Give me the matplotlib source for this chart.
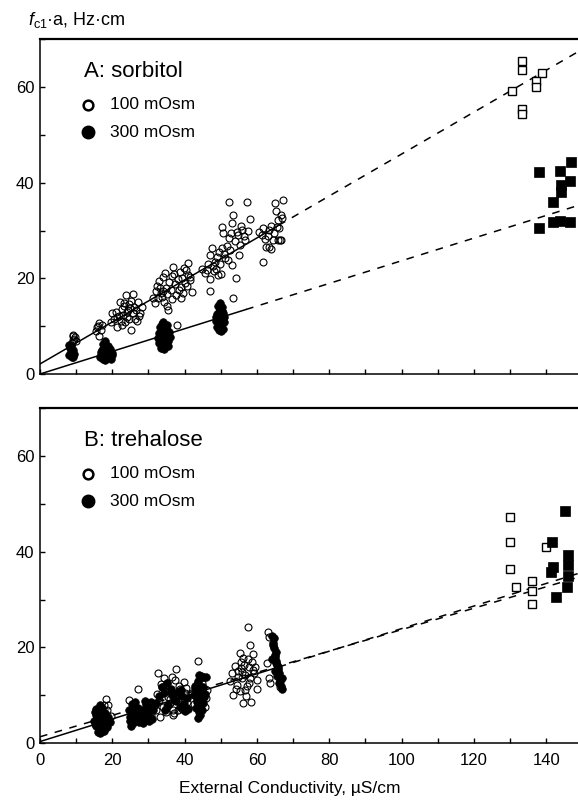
import numpy as np
import matplotlib
matplotlib.use("Agg")
import matplotlib.pyplot as plt
from matplotlib.ticker import MultipleLocator

plt.rcParams['font.family'] = ['Liberation Sans', 'DejaVu Sans']
plt.rcParams['mathtext.fontset'] = 'custom'
plt.rcParams['mathtext.rm'] = 'Liberation Sans'
plt.rcParams['mathtext.it'] = 'Liberation Sans:italic'

# ---------------- panel A: sorbitol ----------------
a100_x = [9.2, 9.7, 9.2, 10.0, 8.8, 9.5, 9.0,
          16.4, 15.7, 16.8, 15.5, 16.4, 17.2, 16.0,
          19.6, 19.8, 20.5, 21.0, 21.4, 21.8, 22.1, 22.4, 22.8, 23.0, 23.3, 23.5, 23.8, 24.0,
          24.2, 24.5, 24.7, 25.0, 25.1, 25.3, 25.6, 25.8, 26.0, 26.3, 26.6, 27.0, 27.3, 27.7,
          28.2, 21.2, 22.6, 24.4, 23.1, 26.9,
          31.2, 31.8, 32.3, 32.6, 33.0, 33.4, 33.7, 34.0, 34.3, 34.6, 34.9, 35.2, 35.5, 35.8,
          36.1, 36.4, 36.9, 37.2, 37.5, 37.8, 38.1, 38.4, 38.7, 39.0, 39.3, 39.6, 40.0, 40.3,
          40.6, 41.0, 41.4, 42.0, 33.1, 35.0, 36.6, 38.9, 40.8, 34.1, 37.0, 39.8, 32.0, 41.6,
          52.4, 57.2, 53.5, 58.1, 50.3, 55.5, 50.7, 54.4, 56.7, 47.5, 50.3, 52.6, 55.3, 51.2,
          53.0, 48.4, 46.1, 49.3, 47.0, 54.2, 47.0, 53.5, 44.8, 45.5, 46.5, 47.8, 48.2, 49.0,
          49.8, 50.9, 51.6, 52.2, 53.8, 54.9, 55.8, 56.3, 57.5, 51.9, 49.6, 48.8, 46.9, 53.1,
          55.0, 52.8, 50.0,
          65.0, 67.1, 66.6, 65.9, 63.2, 62.2, 64.5, 65.9, 66.6, 62.5, 63.8, 61.8, 65.5, 61.5,
          64.0, 66.2, 64.8, 63.0, 65.3, 60.5, 61.8, 66.9, 63.4, 66.4]
a100_y = [8.2, 7.7, 7.1, 6.8, 6.5, 7.4, 7.9,
          10.7, 9.8, 9.3, 8.9, 7.9, 10.2, 10.1,
          10.9, 12.7, 11.5, 13.0, 9.9, 12.2, 15.1, 11.0, 13.5, 12.4, 14.2, 10.8, 16.5, 13.0,
          12.0, 14.6, 11.5, 13.8, 9.3, 15.2, 16.7, 12.7, 14.0, 11.6, 13.4, 15.0, 12.2, 12.8,
          14.1, 12.0, 10.3, 13.3, 14.8, 11.0,
          16.0, 14.8, 18.5, 15.8, 19.5, 17.0, 16.2, 20.3, 15.0, 21.1, 18.0, 16.8, 13.4, 19.2,
          17.6, 20.6, 22.4, 18.8, 16.5, 10.3, 19.8, 17.5, 21.3, 18.2, 20.0, 16.9, 19.1, 21.7,
          18.5, 23.2, 20.2, 17.2, 17.9, 14.3, 15.7, 16.0, 20.8, 17.4, 20.9, 22.1, 17.3, 19.6,
          35.9, 36.0, 33.3, 32.4, 30.8, 31.0, 29.4, 29.8, 28.0, 26.4, 26.3, 25.9, 27.0, 24.2,
          22.8, 23.5, 21.8, 20.7, 19.8, 20.0, 17.4, 16.0, 22.0, 21.2, 23.0, 22.6, 21.5, 24.5,
          23.0, 25.2, 26.8, 28.5, 27.8, 29.0, 30.2, 28.8, 30.0, 23.8, 25.5, 22.0, 24.8, 31.5,
          25.0, 29.6, 21.0,
          35.7, 36.5, 33.3, 32.2, 30.1, 28.2, 28.0, 28.0, 28.0, 26.5, 26.1, 23.5, 30.7, 29.0,
          31.0, 30.5, 29.6, 28.9, 34.2, 29.8, 30.6, 32.6, 26.6, 28.0]

a300_x = [8.0, 8.5, 9.0, 8.3, 8.8, 9.3, 8.1, 8.7, 9.1,
          16.6, 17.0, 17.4, 17.8, 18.2, 18.6, 19.0, 19.4, 19.8, 17.2, 17.8, 18.4, 19.0, 19.6,
          17.5, 18.0, 18.8, 17.9, 18.2, 16.9, 19.3, 20.0,
          32.5, 33.0, 33.5, 34.0, 34.5, 35.0, 35.5, 36.0, 33.2, 33.8, 34.4, 35.0, 35.6, 33.5,
          34.2, 34.9, 33.0, 34.0, 35.2, 34.4, 33.6, 35.4, 34.6, 33.9, 34.1,
          48.6, 49.0, 49.4, 49.8, 50.2, 50.6, 51.0, 49.2, 49.8, 50.4, 49.5, 50.0, 49.0, 50.5,
          49.7, 50.1, 48.8, 50.9, 49.4, 50.3]
a300_y = [4.0, 4.5, 5.0, 5.5, 3.6, 4.2, 6.0, 5.8, 3.5,
          3.5, 4.0, 3.2, 4.5, 3.8, 3.3, 4.2, 3.6, 4.4, 5.0, 5.5, 5.0, 4.8, 3.2,
          6.2, 6.8, 5.8, 3.0, 4.4, 4.6, 5.2, 3.9,
          7.5, 8.5, 6.5, 9.5, 7.0, 8.0, 6.8, 7.8, 9.8, 10.5, 10.0, 9.2, 8.8, 5.5,
          5.2, 6.0, 6.5, 8.0, 10.3, 8.6, 7.2, 5.8, 7.5, 6.2, 10.8,
          11.0, 12.5, 10.0, 13.5, 11.5, 12.8, 10.8, 14.2, 14.8, 14.0, 9.2, 8.9, 9.8, 9.5,
          11.8, 10.5, 12.0, 12.0, 13.0, 13.2]

a100_sq_x = [133.2, 133.2, 138.8, 137.2, 137.2, 130.5, 133.2, 133.2]
a100_sq_y = [65.5, 63.5, 62.9, 61.2, 60.0, 59.3, 55.4, 54.4]
a300_sq_x = [138.1, 143.8, 146.8, 146.6, 144.1, 144.1, 141.8, 141.8, 143.8, 146.6, 138.1]
a300_sq_y = [42.3, 42.5, 44.3, 40.4, 39.5, 38.1, 35.9, 31.7, 32.0, 31.9, 30.5]

# fitted lines: solid part, then dashed extrapolation
a100_line_x = [0, 66, 149]
a100_line_y = [2.1, 31.1, 67.5]
a300_line_x = [0, 57, 149]
a300_line_y = [0.0, 13.5, 35.3]

# ---------------- panel B: trehalose ----------------
b100_x = [18.3, 18.9, 18.4, 15.2, 16.0, 19.5, 17.6,
          24.7, 27.0, 25.4, 29.5, 30.8, 26.2,
          32.6, 37.5, 36.4, 33.7, 39.8, 33.2, 36.9, 31.8, 32.4, 33.0, 34.0, 34.5, 35.0, 35.4,
          35.9, 36.2, 36.8, 37.2, 37.7, 38.1, 38.5, 39.0, 39.4, 40.2, 40.7, 34.8, 35.6, 37.0,
          38.8, 33.6, 36.0, 38.3, 39.6, 34.3, 37.9, 35.2, 40.4, 32.1,
          43.6, 45.2, 45.6, 42.0, 46.3, 42.6, 44.9, 46.0,
          57.6, 58.1, 59.0, 55.3, 53.0, 53.3, 56.1, 58.3, 59.9, 52.5, 53.8, 54.4, 54.9, 55.5,
          55.9, 56.4, 56.8, 57.2, 57.7, 58.2, 58.7, 59.3, 60.1, 54.1, 55.2, 56.2, 57.0, 57.9,
          58.9, 56.6, 55.7, 57.4, 54.7, 59.6, 56.0,
          63.0, 63.4, 63.4, 63.6, 66.4, 62.8]
b100_y = [9.3, 7.9, 6.8, 4.0, 7.2, 5.6, 8.0,
          8.9, 11.4, 6.5, 8.2, 5.9, 4.8,
          14.6, 15.4, 13.9, 11.8, 12.8, 5.5, 5.9, 8.0, 10.2, 9.0, 7.5, 10.8, 12.5, 9.6,
          8.4, 11.0, 7.0, 13.2, 10.1, 8.8, 12.0, 9.4, 7.2, 10.5, 8.6, 6.4, 10.9, 6.2,
          11.2, 12.3, 9.3, 6.8, 8.0, 13.5, 9.9, 7.8, 11.6, 6.9,
          17.2, 13.9, 7.6, 10.5, 11.0, 8.2, 12.6, 9.5,
          24.3, 20.5, 18.6, 18.8, 14.6, 10.0, 8.3, 8.6, 11.4, 13.0, 16.2, 12.2, 15.0, 17.0,
          13.6, 16.4, 14.2, 12.0, 15.8, 13.5, 16.9, 14.7, 13.2, 11.3, 10.8, 17.8, 9.8, 12.5,
          15.2, 11.0, 15.6, 17.5, 13.8, 16.0, 14.8,
          23.3, 22.2, 13.5, 12.6, 11.8, 16.8]

b300_x = [15.0, 15.4, 15.8, 16.2, 16.6, 17.0, 17.4, 17.8, 18.2, 18.6, 15.2, 15.6, 16.0, 16.4,
          16.8, 17.2, 17.6, 18.0, 18.4, 16.0, 16.6, 17.2, 15.5, 16.3, 17.0, 17.7, 16.7, 15.9,
          16.5, 17.3, 18.8, 19.3,
          24.6, 25.0, 25.4, 25.8, 26.2, 26.6, 27.0, 25.2, 25.8, 26.4, 24.8, 25.6, 26.0, 28.4,
          28.8, 29.2, 29.6, 30.0, 30.4, 30.8, 31.2, 28.6, 29.4, 30.2, 31.0, 29.0, 29.8, 30.6,
          27.6, 28.0, 26.8, 27.4,
          32.2, 33.0, 34.2, 35.5, 36.6, 37.6, 38.6, 39.2, 40.0, 40.6, 33.8, 35.0, 36.2, 37.0,
          38.2, 39.8, 40.8, 34.6, 39.0,
          42.6, 43.0, 43.4, 43.8, 44.2, 44.6, 45.0, 45.4, 45.8, 43.2, 43.6, 44.0, 44.4, 44.8,
          45.2, 43.4, 44.0, 44.6, 45.2, 42.8, 43.8, 44.8, 44.2, 43.6, 45.6, 44.0, 43.9,
          64.2, 64.5, 64.8, 65.0, 65.3, 65.6, 65.9, 66.2, 64.4, 64.9, 65.4, 65.8, 66.3, 66.6,
          67.0, 64.3, 65.1, 65.6, 66.0, 66.8, 64.7, 65.2]
b300_y = [4.5, 3.5, 5.5, 2.8, 4.8, 3.2, 5.8, 4.0, 5.2, 3.4, 6.5, 7.2, 2.3, 6.0,
          7.5, 6.8, 2.6, 6.3, 4.4, 4.0, 3.8, 4.6, 5.9, 5.0, 2.4, 3.0, 8.0, 7.0,
          2.0, 6.0, 5.5, 4.4,
          7.0, 5.5, 8.2, 4.2, 6.6, 5.0, 7.4, 3.6, 6.0, 8.6, 4.6, 7.6, 4.8, 6.8,
          5.0, 8.2, 6.0, 7.6, 5.4, 8.6, 6.8, 4.2, 7.2, 4.6, 5.0, 8.8, 8.4, 7.2,
          5.6, 6.2, 6.4, 4.4,
          8.4, 9.8, 10.5, 8.0, 10.0, 8.8, 7.6, 9.8, 6.6, 9.4, 11.8, 12.6, 11.4, 9.0,
          10.6, 8.2, 7.2, 7.0, 11.0,
          10.0, 11.5, 9.0, 12.5, 10.5, 8.2, 11.8, 9.6, 13.8, 7.4, 13.0, 6.5, 14.0, 7.0,
          13.8, 8.6, 12.0, 10.8, 8.4, 12.0, 9.8, 11.2, 5.8, 5.2, 10.2, 9.2, 14.3,
          22.4, 21.0, 19.8, 18.5, 17.2, 16.4, 15.5, 14.6, 20.4, 18.0, 16.8, 16.0, 13.0, 12.0,
          11.4, 17.6, 15.0, 14.0, 12.6, 13.6, 22.0, 19.0]

b100_sq_x = [130.0, 130.0, 130.0, 131.7, 136.2, 136.2, 136.2, 140.0]
b100_sq_y = [47.3, 42.0, 36.3, 32.7, 33.9, 31.9, 29.0, 40.9]
b300_sq_x = [145.2, 141.5, 142.0, 141.4, 146.0, 146.0, 146.0, 145.8, 142.6]
b300_sq_y = [48.5, 42.1, 36.9, 35.8, 39.3, 37.2, 34.9, 32.7, 30.5]

b100_line_x = [0, 149]
b100_line_y = [1.3, 34.7]
b300_line_x = [0, 66, 149]
b300_line_y = [0.3, 15.9, 35.5]


def draw_fit(ax, xs, ys):
    # first segment solid (measured range), rest dashed
    if len(xs) == 3:
        ax.plot(xs[:2], ys[:2], color='black', lw=1.1, zorder=2)
        ax.plot(xs[1:], ys[1:], color='black', lw=1.1, ls=(0, (5, 5)), zorder=2)
    else:
        ax.plot(xs, ys, color='black', lw=1.1, ls=(0, (5, 5)), zorder=2)


def draw_panel(ax, title, x100, y100, x300, y300, sqx100, sqy100, sqx300, sqy300, lines):
    ax.plot(x100, y100, 'o', ms=5, mfc='none', mec='black', mew=0.8, zorder=3)
    ax.plot(x300, y300, 'o', ms=5.5, mfc='black', mec='black', mew=0.5, zorder=4)
    ax.plot(sqx100, sqy100, 's', ms=6, mfc='white', mec='black', mew=1.0, zorder=3)
    ax.plot(sqx300, sqy300, 's', ms=6.5, mfc='black', mec='black', mew=0.5, zorder=3)
    for xs, ys in lines:
        draw_fit(ax, xs, ys)

    ax.set_xlim(0, 148.8)
    ax.set_ylim(0, 70)
    ax.xaxis.set_major_locator(MultipleLocator(20))
    ax.xaxis.set_minor_locator(MultipleLocator(10))
    ax.yaxis.set_major_locator(MultipleLocator(20))
    ax.yaxis.set_minor_locator(MultipleLocator(10))
    ax.tick_params(which='both', direction='in', length=3.5, width=1.0, labelsize=12)
    ax.tick_params(axis='y', pad=4)
    ax.tick_params(axis='x', pad=7)
    ax.spines['right'].set_visible(False)
    for s in ['left', 'bottom', 'top']:
        ax.spines[s].set_linewidth(1.1)
    ax.spines['top'].set_linewidth(1.6)

    ax.text(0.081, 0.905, title, transform=ax.transAxes, fontsize=16, va='center', ha='left')
    ax.plot([0.09], [0.805], 'o', transform=ax.transAxes, ms=7, mfc='white', mec='black',
            mew=1.8, clip_on=False)
    ax.plot([0.09], [0.722], 'o', transform=ax.transAxes, ms=9, mfc='black', mec='black',
            clip_on=False)
    ax.text(0.13, 0.805, '100 mOsm', transform=ax.transAxes, fontsize=12.5, va='center')
    ax.text(0.13, 0.722, '300 mOsm', transform=ax.transAxes, fontsize=12.5, va='center')


fig = plt.figure(figsize=(5.78, 8.02), dpi=100)
axA = fig.add_axes([40 / 578, (802 - 374) / 802, 538 / 578, 334.6 / 802])
axB = fig.add_axes([40 / 578, (802 - 743) / 802, 538 / 578, 334.6 / 802])

draw_panel(axA, 'A: sorbitol', a100_x, a100_y, a300_x, a300_y,
           a100_sq_x, a100_sq_y, a300_sq_x, a300_sq_y,
           [(a100_line_x, a100_line_y), (a300_line_x, a300_line_y)])
draw_panel(axB, 'B: trehalose', b100_x, b100_y, b300_x, b300_y,
           b100_sq_x, b100_sq_y, b300_sq_x, b300_sq_y,
           [(b100_line_x, b100_line_y), (b300_line_x, b300_line_y)])
axA.tick_params(axis='x', labelbottom=False)

fig.text(28 / 578, 1 - 25 / 802, r'$f_{\mathrm{c1}}$·a, Hz·cm', fontsize=13, va='baseline')
fig.text(290 / 578, 1 - 789 / 802, 'External Conductivity, µS/cm', fontsize=12.5,
         ha='center', va='center')

fig.savefig('out.png', dpi=100)
